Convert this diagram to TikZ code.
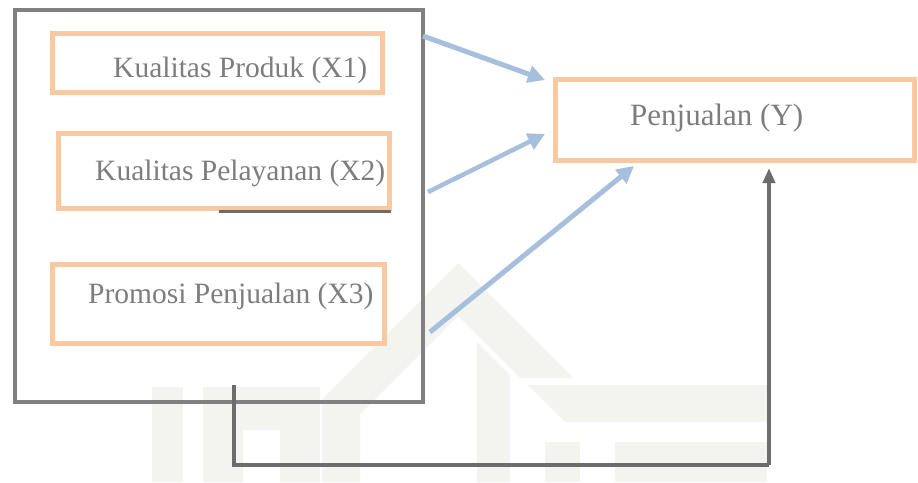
\documentclass[tikz,border=0pt]{standalone}
\usepackage{fontspec}
\setmainfont{Liberation Serif}
\usetikzlibrary{arrows.meta}
\definecolor{boxgray}{RGB}{128,128,128}
\definecolor{linegray}{RGB}{108,108,108}
\definecolor{orng}{RGB}{250,201,161}
\definecolor{blu}{RGB}{166,191,221}
\definecolor{txtgray}{RGB}{125,125,125}
\definecolor{wm}{RGB}{243,243,240}
\begin{document}
\begin{tikzpicture}[x=1pt,y=-1pt,
  varbox/.style={draw=orng,line width=5pt,inner sep=0pt,outer sep=0pt},
  groupbox/.style={draw=boxgray,line width=4.5pt,inner sep=0pt,outer sep=0pt},
  lbl/.style={text=txtgray,font=\fontsize{29.5}{32}\selectfont,anchor=base west,inner sep=0pt},
  inarrow/.style={draw=blu,line width=5pt,-{Triangle[length=17pt,width=17pt]}},
  fb/.style={draw=linegray,line width=4pt},
  wmark/.style={fill=wm}]
\useasboundingbox (0,0) rectangle (918,482);
\fill[white] (0,0) rectangle (918,482);
% watermark
\fill[wmark] (152,387) rectangle (183,482);
\fill[wmark] (203,387) -- (320,387) -- (320,482) -- (280,482) -- (280,430) -- (243,430) -- (243,482) -- (203,482) -- cycle;
\fill[wmark] (458,263) -- (573,378) -- (520,378) -- (458,316) -- (360,414) -- (360,482) -- (322,482) -- (322,399) -- cycle;
\fill[wmark] (477,342) -- (510,375) -- (510,482) -- (477,482) -- cycle;
\fill[wmark] (528,385) -- (767,385) -- (767,422) -- (565,422) -- cycle;
\fill[wmark] (545,442) rectangle (580,482);
\fill[wmark] (615,442) rectangle (767,482);
% boxes
\node[groupbox, minimum width=408pt, minimum height=392pt] (outer) at (219,206) {};
\node[varbox, minimum width=330pt, minimum height=59pt] (x1) at (217.5,63) {};
\node[varbox, minimum width=331pt, minimum height=75pt] (x2) at (224,171) {};
\node[varbox, minimum width=332pt, minimum height=79pt] (x3) at (218.5,304) {};
\node[varbox, minimum width=359pt, minimum height=81pt] (y) at (735,120) {};
\draw[draw=linegray,line width=3pt] (x2.south east) ++(1,3) coordinate (g2) -- (g2 -| 219,0);
% labels
\node[lbl] (tx1) at (113,77) {Kualitas Produk (X1)};
\node[lbl] (tx2) at (95,180) {Kualitas Pelayanan (X2)};
\node[lbl] (tx3) at (88,303) {Promosi Penjualan (X3)};
\node[lbl, font=\fontsize{31}{34}\selectfont] (ty) at (630,125) {Penjualan (Y)};
% arrows
\coordinate (s1) at (423,36);  \coordinate (t1) at (545,80);
\coordinate (s2) at (428,192); \coordinate (t2) at (545,134);
\coordinate (s3) at (430,332); \coordinate (t3) at (634,166);
\draw[inarrow] (s1) -- (t1);
\draw[inarrow, line width=4.5pt] (s2) -- (t2);
\draw[inarrow] (s3) -- (t3);
% feedback
\coordinate (f1) at (234,385);
\coordinate (f2) at (234,465);
\coordinate (f3) at (769,465);
\coordinate (f4) at (769,168);
\draw[fb, line join=miter] (f1) -- (f2) -- (f3);
\draw[fb, -{Triangle[length=15pt,width=12pt]}] (f3) -- (f4);
\end{tikzpicture}
\end{document}
